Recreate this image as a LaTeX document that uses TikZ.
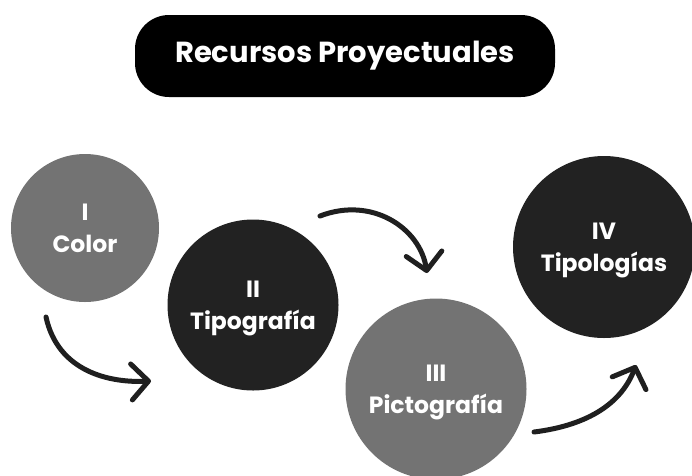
\documentclass[tikz,border=0pt]{standalone}
\usepackage{fontspec}
\setmainfont{Poppins}
\usetikzlibrary{arrows.meta}
\definecolor{circgray}{HTML}{737373}
\definecolor{circdark}{HTML}{222222}
\begin{document}
\begin{tikzpicture}[x=1pt,y=-1pt,
  bubble/.style={circle,inner sep=0pt,align=center,text=white,text depth=0pt,
    font=\fontsize{23.5}{31.5}\selectfont\bfseries},
  gray bubble/.style={bubble,fill=circgray},
  dark bubble/.style={bubble,fill=circdark},
  flow/.style={line width=5pt,line cap=round,color=black!88,
    -{Straight Barb[length=17pt,width=36pt,round]}}]
\useasboundingbox (0,0) rectangle (692,475);
\node[fill=black,rounded corners=34pt,minimum width=420pt,minimum height=82pt,
  text=white,font=\fontsize{29}{34}\selectfont\bfseries] (title) at (345,56) {Recursos Proyectuales};
\node[gray bubble,minimum size=148pt] (c1) at (85,228) {I\\Color};
\node[dark bubble,minimum size=171pt] (c2) at (253,305) {II\\Tipografía};
\node[gray bubble,minimum size=181pt] (c3) at (436,389) {III\\Pictografía};
\node[dark bubble,minimum size=182pt] (c4) at (604,247) {IV\\Tipologías};
\coordinate (a1s) at (46,317);
\coordinate (a1e) at (151,381);
\coordinate (a2s) at (320,216);
\coordinate (a2e) at (427,273);
\coordinate (a3s) at (534,432);
\coordinate (a3e) at (636,365);
\draw[flow] (a1s) .. controls (58,372) and (110,383) .. (a1e);
\draw[flow] (a2s) .. controls (372,196) and (420,228) .. (a2e);
\draw[flow] (a3s) .. controls (590,425) and (622,402) .. (a3e);
\end{tikzpicture}
\end{document}
